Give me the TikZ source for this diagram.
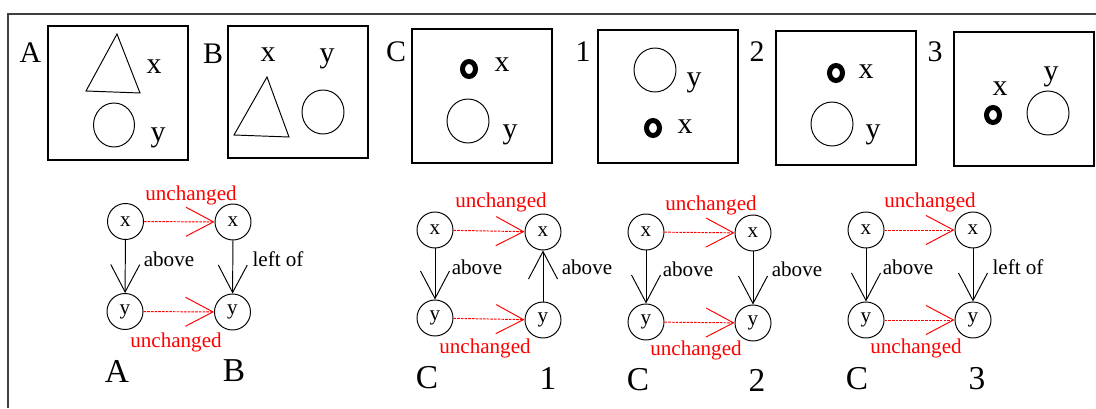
\documentclass[tikz,border=0pt]{standalone}
\usepackage{fontspec}
\setmainfont{Liberation Serif}
\usetikzlibrary{arrows.meta}
\tikzset{
  panel/.style={draw, line width=0.7pt},
  outline/.style={draw, line width=0.55pt},
  blob/.style={draw, line width=0.1cm},
  tag/.style={font=\fontsize{17}{20}\selectfont, inner sep=0pt},
  letter/.style={font=\fontsize{19}{22}\selectfont, inner sep=0pt},
  obj/.style={circle, draw, line width=0.55pt, minimum size=0.72cm, inner sep=0pt, font=\fontsize{12}{14}\selectfont},
  rel/.style={font=\fontsize{12}{14}\selectfont, inner sep=0pt},
  same/.style={rel, text=red},
  barb/.style={-{Straight Barb[length=0.55cm, width=0.58cm]}, line width=0.55pt},
  keep/.style={barb, red, dash pattern=on 1.5pt off 0.6pt},
}
\begin{document}
\begin{tikzpicture}
%
\useasboundingbox (0,0) rectangle (21.92cm,8.16cm);
%
\draw[line width=0.8pt, black!75] (0.16cm,0cm) -- (0.16cm,7.88cm) -- (21.92cm,7.88cm);
%
% scene A
\node[tag] (pA) at (0.61cm,7.10cm) {A};
\draw[panel] (0.96cm,7.64cm) rectangle (3.76cm,4.96cm);
\draw[outline] (2.34cm,7.48cm) -- (1.72cm,6.34cm) -- (2.80cm,6.30cm) -- cycle;
\draw[outline] (2.28cm,5.66cm) ellipse (0.41cm and 0.44cm);
\node[tag] (pAx) at (3.08cm,6.82cm) {x};
\node[tag] (pAy) at (3.16cm,5.40cm) {y};
%
% scene B
\node[tag] (pB) at (4.26cm,7.08cm) {B};
\draw[panel] (4.56cm,7.64cm) rectangle (7.36cm,5.00cm);
\draw[outline] (5.34cm,6.62cm) -- (4.68cm,5.46cm) -- (5.78cm,5.42cm) -- cycle;
\draw[outline] (6.46cm,5.92cm) ellipse (0.42cm and 0.44cm);
\node[tag] (pBx) at (5.36cm,7.06cm) {x};
\node[tag] (pBy) at (6.54cm,6.98cm) {y};
%
% scene C
\node[tag] (pC) at (7.92cm,7.12cm) {C};
\draw[panel] (8.24cm,7.58cm) rectangle (11.04cm,4.90cm);
\draw[blob] (9.38cm,6.78cm) ellipse (0.13cm and 0.15cm);
\draw[outline] (9.36cm,5.74cm) ellipse (0.42cm and 0.44cm);
\node[tag] (pCx) at (10.04cm,6.86cm) {x};
\node[tag] (pCy) at (10.20cm,5.46cm) {y};
%
% scene 1
\node[tag] (p1) at (11.66cm,7.12cm) {1};
\draw[panel] (11.96cm,7.56cm) rectangle (14.76cm,4.90cm);
\draw[outline] (13.10cm,6.76cm) ellipse (0.42cm and 0.44cm);
\draw[blob] (13.06cm,5.60cm) ellipse (0.13cm and 0.15cm);
\node[tag] (p1y) at (13.88cm,6.50cm) {y};
\node[tag] (p1x) at (13.70cm,5.62cm) {x};
%
% scene 2
\node[tag] (p2) at (15.14cm,7.12cm) {2};
\draw[panel] (15.52cm,7.54cm) rectangle (18.32cm,4.86cm);
\draw[blob] (16.72cm,6.70cm) ellipse (0.13cm and 0.15cm);
\draw[outline] (16.64cm,5.68cm) ellipse (0.42cm and 0.44cm);
\node[tag] (p2x) at (17.32cm,6.72cm) {x};
\node[tag] (p2y) at (17.46cm,5.46cm) {y};
%
% scene 3
\node[tag] (p3) at (18.70cm,7.12cm) {3};
\draw[panel] (19.08cm,7.52cm) rectangle (21.88cm,4.84cm);
\draw[blob] (19.86cm,5.86cm) ellipse (0.13cm and 0.15cm);
\draw[outline] (20.96cm,5.90cm) ellipse (0.42cm and 0.44cm);
\node[tag] (p3x) at (20.00cm,6.38cm) {x};
\node[tag] (p3y) at (21.02cm,6.62cm) {y};
%
% A -> B
\node[obj] (xA) at (2.51cm,3.73cm) {x};
\node[obj] (yA) at (2.50cm,1.93cm) {y};
\node[obj] (xB) at (4.66cm,3.72cm) {x};
\node[obj] (yB) at (4.65cm,1.92cm) {y};
\draw[barb] (xA) -- (yA);
\draw[barb] (xB) -- (yB);
\draw[keep] (xA) -- (xB);
\draw[keep] (yA) -- (yB);
\node[same] (uAB1) at (3.82cm,4.26cm) {unchanged};
\node[same] (uAB2) at (3.52cm,1.32cm) {unchanged};
\node[rel] (rA) at (3.38cm,2.98cm) {above};
\node[rel] (rB) at (5.56cm,2.98cm) {left of};
\node[letter] (gA) at (2.34cm,0.74cm) {A};
\node[letter] (gB) at (4.68cm,0.74cm) {B};
%
% C -> 1
\node[obj] (xC1) at (8.70cm,3.56cm) {x};
\node[obj] (yC1) at (8.70cm,1.80cm) {y};
\node[obj] (x1) at (10.86cm,3.52cm) {x};
\node[obj] (y1) at (10.86cm,1.76cm) {y};
\draw[barb] (xC1) -- (yC1);
\draw[barb] (y1) -- (x1);
\draw[keep] (xC1) -- (x1);
\draw[keep] (yC1) -- (y1);
\node[same] (uC11) at (10.02cm,4.12cm) {unchanged};
\node[same] (uC12) at (9.70cm,1.20cm) {unchanged};
\node[rel] (rC1) at (9.54cm,2.82cm) {above};
\node[rel] (r1) at (11.74cm,2.82cm) {above};
\node[letter] (gC1) at (8.54cm,0.60cm) {C};
\node[letter] (g1) at (10.96cm,0.60cm) {1};
%
% C -> 2
\node[obj] (xC2) at (12.92cm,3.52cm) {x};
\node[obj] (yC2) at (12.92cm,1.72cm) {y};
\node[obj] (x2) at (15.06cm,3.50cm) {x};
\node[obj] (y2) at (15.06cm,1.70cm) {y};
\draw[barb] (xC2) -- (yC2);
\draw[barb] (x2) -- (y2);
\draw[keep] (xC2) -- (x2);
\draw[keep] (yC2) -- (y2);
\node[same] (uC21) at (14.22cm,4.06cm) {unchanged};
\node[same] (uC22) at (13.92cm,1.16cm) {unchanged};
\node[rel] (rC2) at (13.76cm,2.78cm) {above};
\node[rel] (r2) at (15.94cm,2.78cm) {above};
\node[letter] (gC2) at (12.76cm,0.56cm) {C};
\node[letter] (g2) at (15.14cm,0.56cm) {2};
%
% C -> 3
\node[obj] (xC3) at (17.32cm,3.56cm) {x};
\node[obj] (yC3) at (17.32cm,1.76cm) {y};
\node[obj] (x3) at (19.46cm,3.56cm) {x};
\node[obj] (y3) at (19.46cm,1.76cm) {y};
\draw[barb] (xC3) -- (yC3);
\draw[barb] (x3) -- (y3);
\draw[keep] (xC3) -- (x3);
\draw[keep] (yC3) -- (y3);
\node[same] (uC31) at (18.60cm,4.12cm) {unchanged};
\node[same] (uC32) at (18.32cm,1.20cm) {unchanged};
\node[rel] (rC3) at (18.16cm,2.82cm) {above};
\node[rel] (r3) at (20.36cm,2.82cm) {left of};
\node[letter] (gC3) at (17.14cm,0.58cm) {C};
\node[letter] (g3) at (19.54cm,0.58cm) {3};
%
\end{tikzpicture}
\end{document}
